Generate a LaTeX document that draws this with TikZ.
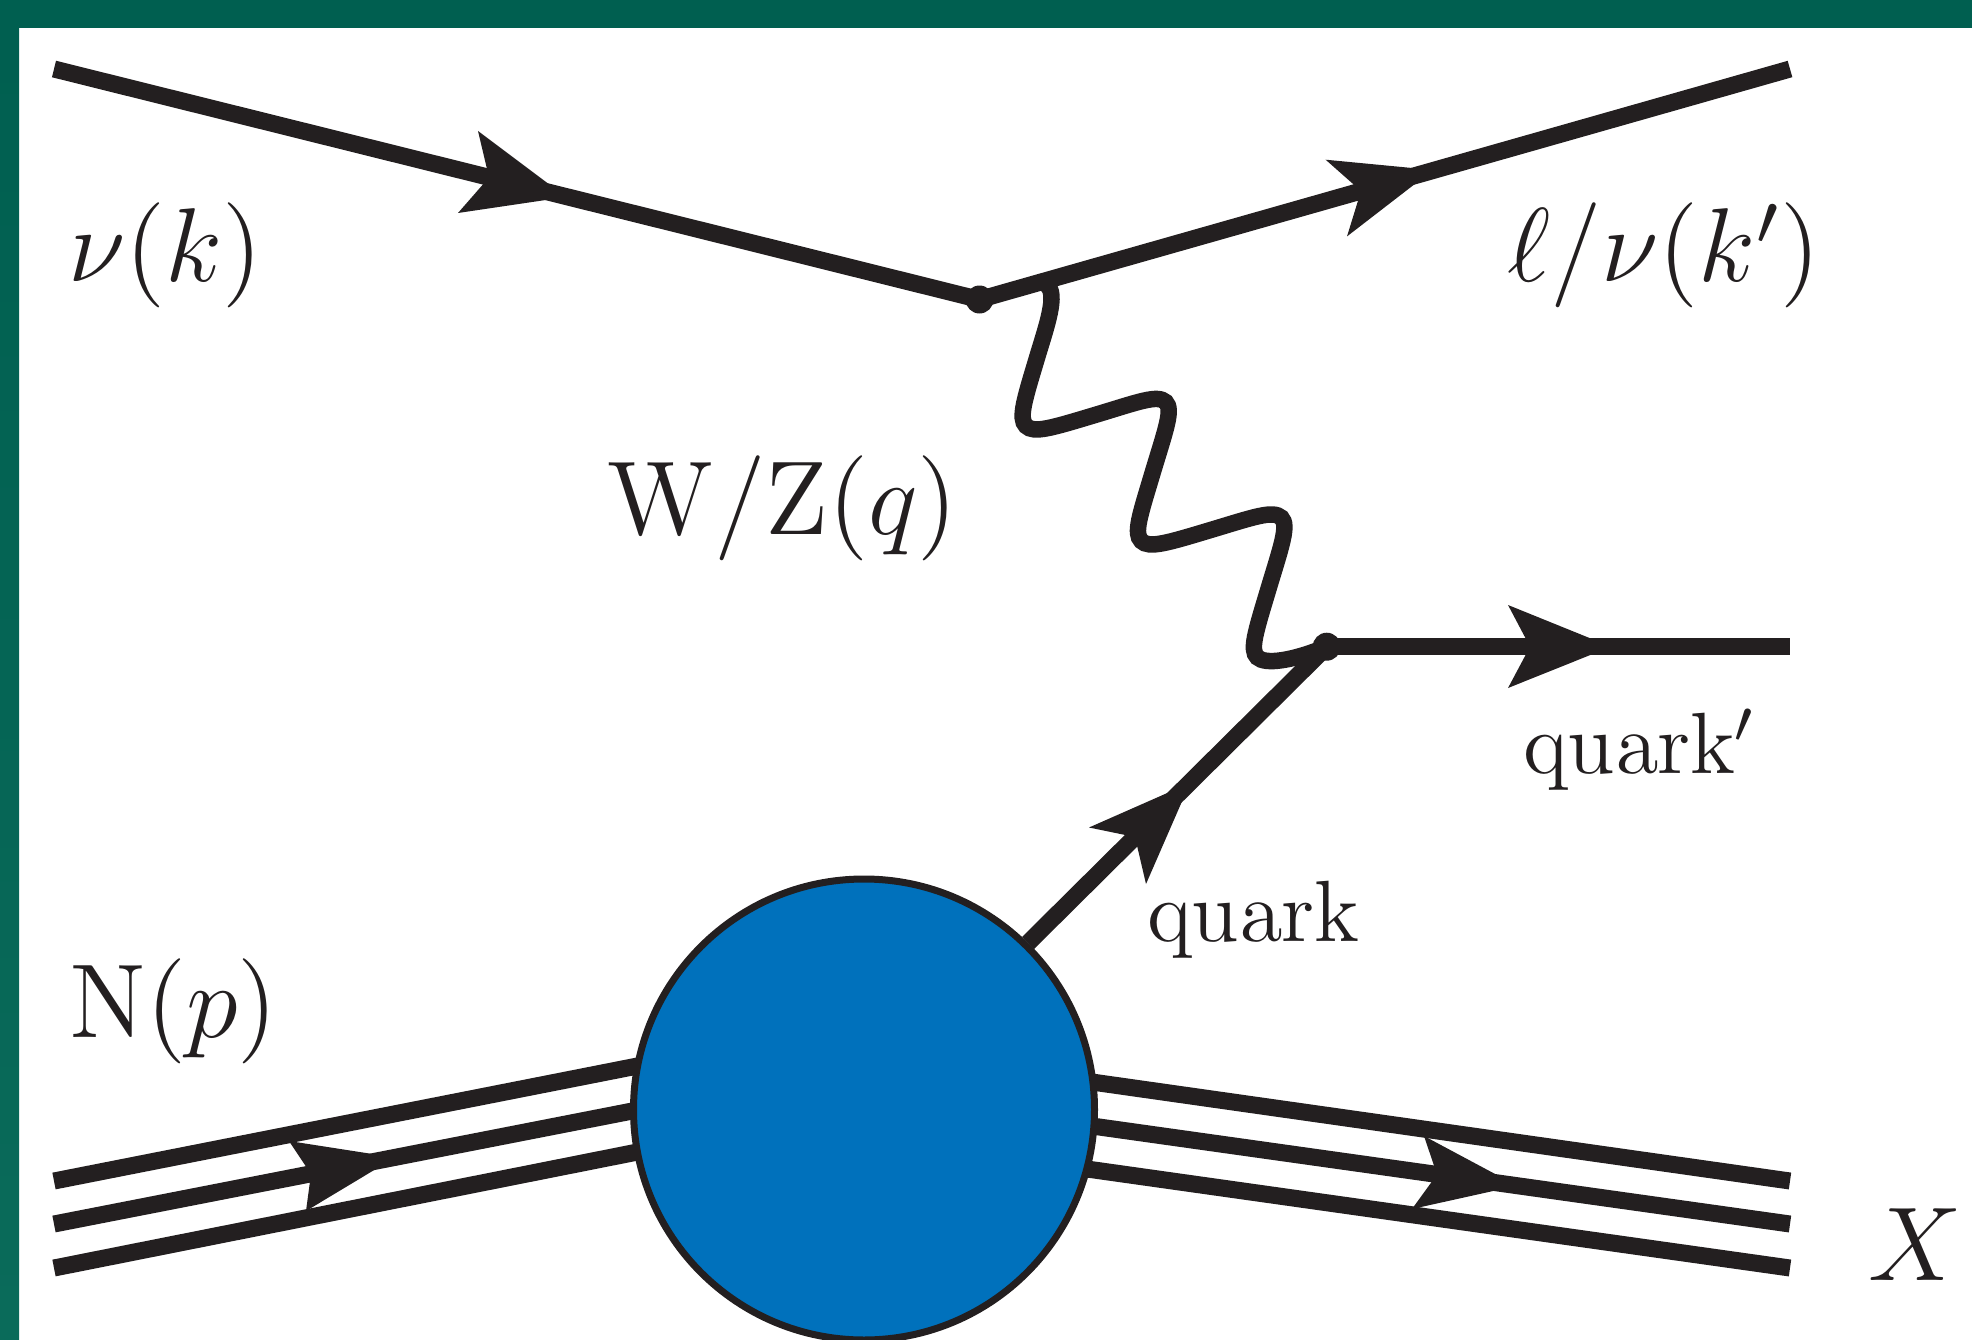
\documentclass[tikz,border=0pt]{standalone}
\DeclareFontShape{OT1}{cmr}{m}{n}{<->cmr12}{}
\DeclareFontShape{OML}{cmm}{m}{it}{<->cmmi12}{}
\DeclareFontShape{OMS}{cmsy}{m}{n}{<->cmsy7}{}
\DeclareMathSizes{105}{105}{72}{52}
\DeclareMathSizes{87}{87}{60}{44}
\usetikzlibrary{backgrounds}
\definecolor{ink}{HTML}{231F20}
\definecolor{framedark}{HTML}{005F50}
\definecolor{framelight}{HTML}{0A6B5A}
\definecolor{blobblue}{HTML}{0071BC}
\newcommand{\lowprime}[1]{\raisebox{-#1pt}{$'$}}
\tikzset{
  fermion/.style={draw=ink,line width=17pt},
  photon/.style={draw=ink,line width=16.5pt,line cap=round},
  head/.style={fill=ink,draw=none},
  vertexdot/.style={circle,fill=ink,draw=none,minimum size=28pt,inner sep=0pt},
  blob/.style={circle,fill=blobblue,draw=ink,line width=7pt,minimum size=461pt,inner sep=0pt,outer sep=0pt},
  biglabel/.style={anchor=base west,inner sep=0pt,outer sep=0pt,text=ink,font=\fontencoding{OT1}\fontfamily{cmr}\fontsize{105}{120}\selectfont},
  smalllabel/.style={anchor=base west,inner sep=0pt,outer sep=0pt,text=ink,font=\fontencoding{OT1}\fontfamily{cmr}\fontsize{87}{100}\selectfont}
}
\begin{document}
\begin{tikzpicture}[x=1pt,y=-1pt]
\useasboundingbox (0,0) rectangle (1972,1340);
\clip (0,0) rectangle (1972,1340);
\fill[framedark] (0,0) rectangle (1972,28);
\shade[top color=framedark,bottom color=framelight] (0,28) rectangle (19,1340);
% nodes
\node[blob] (nucleon) at (864,1109.5) {};
\node[vertexdot] (v1) at (979.5,299.5) {};
\node[vertexdot] (v2) at (1326.7,646.7) {};
\coordinate (inl) at (54,69);
\coordinate (outl) at (1790,69);
\coordinate (outq) at (1790,646.7);
\coordinate (qs) at (1028,943);
\coordinate (phs) at (1046.7,285);
\coordinate (la) at (54,1181);  \coordinate (lar) at (640,1065.5);
\coordinate (lb) at (54,1224);  \coordinate (lbr) at (640,1109.5);
\coordinate (lc) at (54,1268);  \coordinate (lcr) at (640,1151.5);
\coordinate (ra) at (1790,1181); \coordinate (ral) at (1085,1081);
\coordinate (rb) at (1790,1224); \coordinate (rbl) at (1085,1125);
\coordinate (rc) at (1790,1268); \coordinate (rcl) at (1080,1168);
% labels
\node[biglabel] (lnu) at (68,282) {$\nu(k)$};
\node[biglabel] (llep) at (1507,282) {$\ell/\nu(k\lowprime{8})$};
\node[biglabel] (lwz) at (607,534) {$\mathrm{W/Z}(q)$};
\node[biglabel] (lN) at (69,1037.6) {$\mathrm{N}(p)$};
\node[biglabel] (lX) at (1868,1280) {$X$};
\node[smalllabel] (lqp) at (1523,773.5) {quark\kern-2pt\lowprime{6}};
\node[smalllabel] (lq) at (1147,941) {quark};
% connectors
\begin{scope}[on background layer]
\draw[fermion] (inl) -- (v1.center);
\draw[fermion] (v1.center) -- (outl);
\draw[fermion] (v2.center) -- (outq);
\draw[fermion] (qs) -- (v2.center);
\draw[fermion] (la) -- (lar);
\draw[fermion] (lb) -- (lbr);
\draw[fermion] (lc) -- (lcr);
\draw[fermion] (ral) -- (ra);
\draw[fermion] (rbl) -- (rb);
\draw[fermion] (rcl) -- (rc);
\end{scope}
% photon (control points read off in a 3x crop at (950,250))
\begin{scope}[shift={(950,250)},x=0.33333pt,y=-0.33333pt]
\draw[photon] (phs)
  .. controls (325,130) and (289,230) .. (262,320)
  .. controls (223,450) and (205,505) .. (228,528)
  .. controls (251,551) and (305,534) .. (435,495)
  .. controls (565,456) and (622,433) .. (647,456)
  .. controls (670,479) and (647,538) .. (608,668)
  .. controls (569,798) and (551,850) .. (574,873)
  .. controls (597,896) and (652,879) .. (782,840)
  .. controls (912,801) and (969,780) .. (994,803)
  .. controls (1017,826) and (994,888) .. (955,1018)
  .. controls (916,1148) and (899,1200) .. (922,1222)
  .. controls (946,1245) and (1030,1232) .. (v2.center);
\end{scope}
% arrowheads
\fill[head] (566,197) -- (478,131) -- (489,177.5) -- (458,213) -- cycle;
\fill[head] (1433,170) -- (1325.6,159.7) -- (1361,191) -- (1347,236.4) -- cycle;
\fill[head] (1190,783) -- (1089,827.5) -- (1135,837) -- (1146,884) -- cycle;
\fill[head] (1611,646.7) -- (1508,605) -- (1530,646.7) -- (1508,688) -- cycle;
\fill[head] (395,1157.5) -- (289,1141) -- (311,1174) -- (306,1211) -- cycle;
\fill[head] (1517,1185.7) -- (1424,1136) -- (1437,1174.5) -- (1412,1209) -- cycle;
\end{tikzpicture}
\end{document}
